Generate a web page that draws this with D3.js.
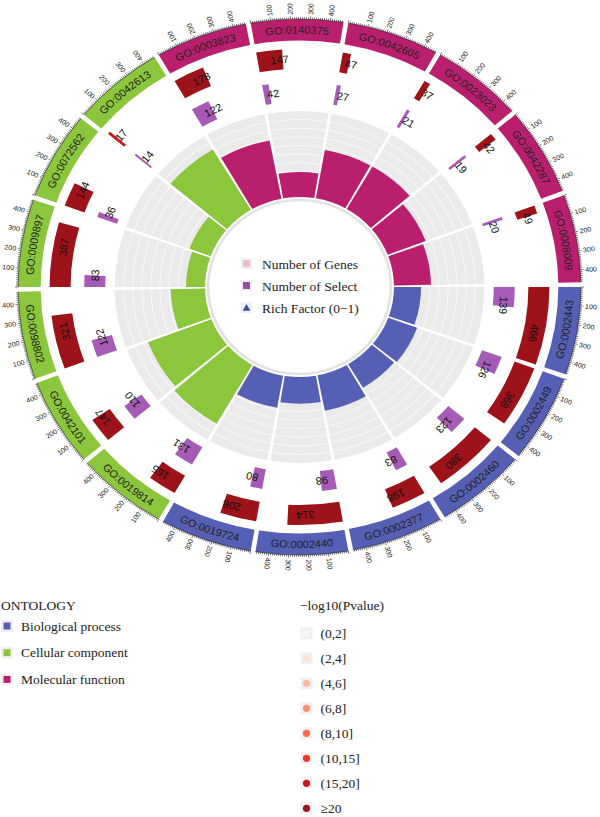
<!DOCTYPE html>
<html><head><meta charset="utf-8">
<script src="https://cdn.jsdelivr.net/npm/d3@7"></script>
<style>body{margin:0;background:#fff}svg{display:block}</style>
</head><body>
<svg id="chart" width="600" height="817"></svg>
<script>
// ---------- data (clockwise, starting at 3 o'clock) ----------
const goIds = ["GO:0002443","GO:0002449","GO:0002460","GO:0002377","GO:0002440","GO:0019724",
  "GO:0019814","GO:0042101","GO:0098802","GO:0009897","GO:0072562","GO:0042613",
  "GO:0003823","GO:0140375","GO:0042605","GO:0023023","GO:0042287","GO:0008009"];
const ontology = ["BP","BP","BP","BP","BP","BP","CC","CC","CC","CC","CC","CC","MF","MF","MF","MF","MF","MF"];
const geneCounts = [466,368,380,198,314,208,165,147,321,387,144,17,178,147,47,37,42,49];
const selectCounts = [139,126,123,83,98,80,131,110,122,83,36,14,122,42,27,21,19,20];
const richFactor = [0.30,0.34,0.32,0.42,0.31,0.38,0.79,0.75,0.38,0.21,0.25,0.82,0.69,0.29,0.57,0.57,0.45,0.41];
const negLog10P = [60,50,52,30,40,32,45,40,35,25,22,18,40,25,24,22,23,22];
const tickValues = [100,200,300,400];
const axisMax = 466;
const ontologyKeys = ["BP","CC","MF"];
const ontologyNames = ["Biological process","Cellular component","Molecular function"];
const ontologyColors = ["#5560B5","#8CC63C","#BA1F6E"];
const pBreaks = [2,4,6,8,10,15,20];
const pLabels = ["(0,2]","(2,4]","(4,6]","(6,8]","(8,10]","(10,15]","(15,20]","\u226520"];
const pColors = ["#FFF5F0","#FEE0D2","#FCBBA1","#FC9272","#FB6A4A","#EF3B2C","#CB181D","#9E1219"];
const centerLegendLabels = ["Number of Genes","Number of Select","Rich Factor (0\u22121)"];
const centerLegendColors = ["#F5B9C9","#9B4EA8","#3F4FA0"];

// ---------- layout ----------
const cx = 299.5, cy = 287, sx = 1.05;
const R = {rich0:90, rich1:176, sel0:185, sel1:205, gene0:218, gene1:238, band0:246.5, band1:268, label:272.5};
const selColor = "#A65BB6";
const gridColor = "#EAEAEA";

const svg = d3.select("#chart");
const g = svg.append("g").attr("transform", `translate(${cx},${cy}) scale(${sx},1)`);

const sector = d3.scaleBand().domain(goIds).range([89.5, 449.5]).paddingInner(0.05).paddingOuter(0.025);
const xs = d3.scaleLinear().domain([0, axisMax]).range([0, sector.bandwidth()]);
const rr = d3.scaleLinear().domain([0,1]).range([R.rich0, R.rich1]);
const pColor = d3.scaleThreshold().domain(pBreaks).range(pColors);
const ontColor = d3.scaleOrdinal().domain(ontologyKeys).range(ontologyColors);
const rad = d => d*Math.PI/180;
const arc = d3.arc();
const pt = (deg, r) => [r*Math.sin(rad(deg)), -r*Math.cos(rad(deg))];

const data = goIds.map((id,i)=>({id, ont:ontology[i], genes:geneCounts[i], sel:selectCounts[i], rich:richFactor[i], p:negLog10P[i], a0:sector(id)}));

// inner circle ring
g.append("circle").attr("r", 87).attr("fill","#fff").attr("stroke","#E2E2E2").attr("stroke-width",2.5);

// rich factor track
data.forEach(d=>{
  const a0 = d.a0, a1 = d.a0 + sector.bandwidth();
  g.append("path").attr("d", arc({innerRadius:R.rich0, outerRadius:R.rich1, startAngle:rad(a0), endAngle:rad(a1)})).attr("fill", gridColor);
  d3.range(1,10).forEach(k=>{
    g.append("path").attr("d", arc({innerRadius:rr(k/10)-0.5, outerRadius:rr(k/10)+0.5, startAngle:rad(a0), endAngle:rad(a1)})).attr("fill","#F7F7F7");
  });
  g.append("path").attr("d", arc({innerRadius:rr(0), outerRadius:rr(d.rich), startAngle:rad(a0), endAngle:rad(a1)})).attr("fill", ontColor(d.ont));
});

// select count track
data.forEach(d=>{
  g.append("path").attr("d", arc({innerRadius:R.sel0, outerRadius:R.sel1, startAngle:rad(d.a0), endAngle:rad(d.a0+xs(d.sel))})).attr("fill", selColor);
});
// gene count track
data.forEach(d=>{
  g.append("path").attr("d", arc({innerRadius:R.gene0, outerRadius:R.gene1, startAngle:rad(d.a0), endAngle:rad(d.a0+xs(d.genes))})).attr("fill", pColor(d.p));
});
// number labels
function numLabel(d, v, r0, r1){
  const a = d.a0 + xs(v/2);
  g.append("text").attr("transform", `rotate(${a}) translate(0,${-(r0+r1)/2})`)
    .attr("text-anchor","start").attr("dominant-baseline","central")
    .attr("font-family","Liberation Sans, Arial, sans-serif").attr("font-size",10.5).attr("fill","#111")
    .text(v);
}
data.forEach(d=>{ numLabel(d, d.sel, R.sel0, R.sel1); numLabel(d, d.genes, R.gene0, R.gene1); });

// outer band with GO labels and axis
data.forEach((d,i)=>{
  const a0 = d.a0, a1 = d.a0 + sector.bandwidth();
  g.append("path").attr("d", arc({innerRadius:R.band0, outerRadius:R.band1, startAngle:rad(a0), endAngle:rad(a1)})).attr("fill", ontColor(d.ont));
  const mid = ((a0+a1)/2) % 360;
  const flip = mid > 90 && mid < 270;
  const rm = (R.band0+R.band1)/2;
  let p;
  if(!flip){ const r = rm - 3.8; const s = pt(a0,r), e = pt(a1,r); p = `M${s[0]},${s[1]} A${r},${r} 0 0 1 ${e[0]},${e[1]}`; }
  else { const r = rm + 3.8; const s = pt(a1,r), e = pt(a0,r); p = `M${s[0]},${s[1]} A${r},${r} 0 0 0 ${e[0]},${e[1]}`; }
  g.append("path").attr("id","lpg"+i).attr("d", p).attr("fill","none");
  g.append("text").attr("font-family","Liberation Sans, Arial, sans-serif").attr("font-size",10.5).attr("fill","#222")
    .append("textPath").attr("href","#lpg"+i).attr("startOffset","50%").attr("text-anchor","middle").text(d.id);

  const s = pt(a0,R.band1), e = pt(a1,R.band1);
  g.append("path").attr("d", `M${s[0]},${s[1]} A${R.band1},${R.band1} 0 0 1 ${e[0]},${e[1]}`).attr("fill","none").attr("stroke","#222").attr("stroke-width",0.6);
  d3.range(0, axisMax+1, 10).forEach(v=>{
    const a = a0 + xs(v);
    const major = v % 100 === 0;
    const p1 = pt(a, R.band1), p2 = pt(a, R.band1 + (major?3:1.8));
    g.append("line").attr("x1",p1[0]).attr("y1",p1[1]).attr("x2",p2[0]).attr("y2",p2[1]).attr("stroke","#222").attr("stroke-width",0.6);
  });
  tickValues.forEach(v=>{
    const a = a0 + xs(v);
    const am = a % 360;
    const inward = am > 200 && am < 325;
    g.append("text")
      .attr("transform", `rotate(${a-90}) translate(${R.label},0)` + (inward ? " rotate(180)" : ""))
      .attr("text-anchor", inward ? "end" : "start").attr("dominant-baseline","central")
      .attr("font-family","Liberation Sans, Arial, sans-serif").attr("font-size",6.8).attr("fill","#222")
      .text(v);
  });
});

// center legend
const serif = "Liberation Serif, Times New Roman, serif";
centerLegendLabels.forEach((t,i)=>{
  const y = 264 + i*22;
  svg.append("rect").attr("x",241).attr("y",y-6).attr("width",11).attr("height",11).attr("fill","#F0F0F0");
  if(i<2){
    svg.append("rect").attr("x",243).attr("y",y-4).attr("width",7).attr("height",7).attr("fill",centerLegendColors[i]);
  } else {
    svg.append("path").attr("d", d3.symbol(d3.symbolTriangle, 26)()).attr("transform",`translate(246.5,${y+0.5})`).attr("fill",centerLegendColors[i]);
  }
  svg.append("text").attr("x",262).attr("y",y+5).attr("font-family",serif).attr("font-size",13.5).attr("fill","#222").text(t);
});

// ontology legend
svg.append("text").attr("x",1).attr("y",610).attr("font-family",serif).attr("font-size",13.5).attr("fill","#222").text("ONTOLOGY");
ontologyNames.forEach((t,i)=>{
  const y = 626 + i*26.7;
  svg.append("rect").attr("x",1).attr("y",y-6).attr("width",12).attr("height",12).attr("fill","#F0F0F0");
  svg.append("rect").attr("x",3.5).attr("y",y-3.5).attr("width",7).attr("height",7).attr("fill",ontColor(ontologyKeys[i]));
  svg.append("text").attr("x",21).attr("y",y+4.5).attr("font-family",serif).attr("font-size",13.5).attr("fill","#222").text(t);
});

// p-value legend
svg.append("text").attr("x",300).attr("y",610).attr("font-family",serif).attr("font-size",13.5).attr("fill","#222").text("\u2212log10(Pvalue)");
pLabels.forEach((t,i)=>{
  const y = 633.3 + i*25;
  svg.append("rect").attr("x",300.5).attr("y",y-6).attr("width",12).attr("height",12).attr("fill","#F0F0F0");
  svg.append("circle").attr("cx",306.5).attr("cy",y).attr("r",3.6).attr("fill",pColors[i]);
  svg.append("text").attr("x",320.5).attr("y",y+4.5).attr("font-family",serif).attr("font-size",13.5).attr("fill","#222").text(t);
});
</script>
</body></html>
